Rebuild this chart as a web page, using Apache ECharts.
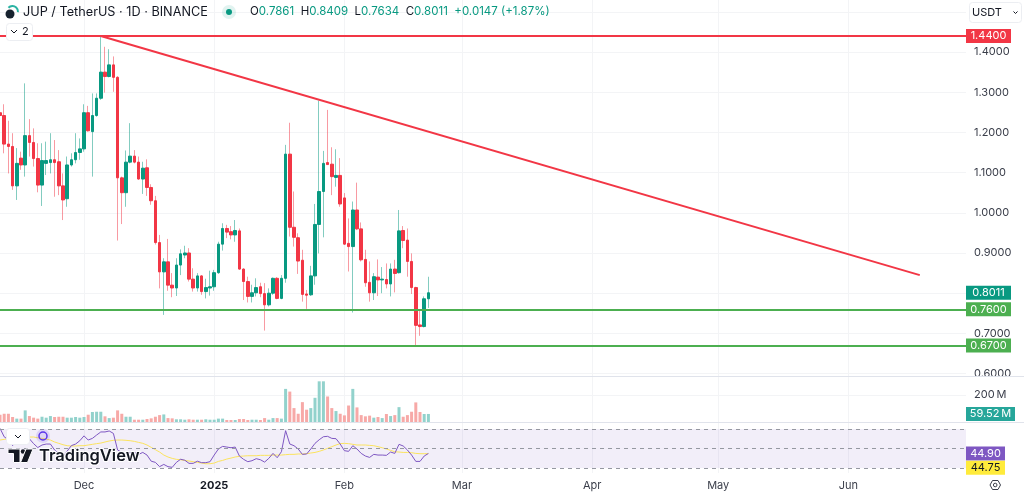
<!DOCTYPE html>
<html>
<head>
<meta charset="utf-8">
<title>JUP / TetherUS</title>
<script src="https://cdn.jsdelivr.net/npm/echarts@6/dist/echarts.min.js"></script>
<style>
  html, body { margin: 0; padding: 0; background: #fff; }
  #chart { width: 1024px; height: 493px; }
</style>
</head>
<body>
<div id="chart"></div>
<script>
var dates = [
  '2024-11-11','2024-11-12','2024-11-13','2024-11-14','2024-11-15','2024-11-16','2024-11-17','2024-11-18','2024-11-19','2024-11-20',
  '2024-11-21','2024-11-22','2024-11-23','2024-11-24','2024-11-25','2024-11-26','2024-11-27','2024-11-28','2024-11-29','2024-11-30',
  '2024-12-01','2024-12-02','2024-12-03','2024-12-04','2024-12-05','2024-12-06','2024-12-07','2024-12-08','2024-12-09','2024-12-10',
  '2024-12-11','2024-12-12','2024-12-13','2024-12-14','2024-12-15','2024-12-16','2024-12-17','2024-12-18','2024-12-19','2024-12-20',
  '2024-12-21','2024-12-22','2024-12-23','2024-12-24','2024-12-25','2024-12-26','2024-12-27','2024-12-28','2024-12-29','2024-12-30',
  '2024-12-31','2025-01-01','2025-01-02','2025-01-03','2025-01-04','2025-01-05','2025-01-06','2025-01-07','2025-01-08','2025-01-09',
  '2025-01-10','2025-01-11','2025-01-12','2025-01-13','2025-01-14','2025-01-15','2025-01-16','2025-01-17','2025-01-18','2025-01-19',
  '2025-01-20','2025-01-21','2025-01-22','2025-01-23','2025-01-24','2025-01-25','2025-01-26','2025-01-27','2025-01-28','2025-01-29',
  '2025-01-30','2025-01-31','2025-02-01','2025-02-02','2025-02-03','2025-02-04','2025-02-05','2025-02-06','2025-02-07','2025-02-08',
  '2025-02-09','2025-02-10','2025-02-11','2025-02-12','2025-02-13','2025-02-14','2025-02-15','2025-02-16','2025-02-17','2025-02-18',
  '2025-02-19','2025-02-20','2025-02-21'
];
var opens = [
  1.249,1.242,1.171,1.165,1.067,1.136,1.119,1.192,1.175,1.135,
  1.069,1.123,1.125,1.132,1.127,1.067,1.035,1.119,1.132,1.150,
  1.159,1.249,1.202,1.242,1.285,1.350,1.339,1.368,1.337,1.087,
  1.050,1.126,1.141,1.126,1.084,1.112,1.063,1.030,0.926,0.853,
  0.878,0.820,0.813,0.870,0.895,0.900,0.835,0.813,0.843,0.804,
  0.813,0.816,0.851,0.922,0.961,0.953,0.945,0.955,0.860,0.829,
  0.792,0.801,0.816,0.799,0.771,0.800,0.837,0.787,0.837,1.146,
  0.964,0.938,0.882,0.798,0.796,0.843,0.971,1.053,1.125,1.121,
  1.088,1.093,1.037,0.924,0.916,1.007,0.960,0.884,0.827,0.801,
  0.840,0.833,0.834,0.823,0.860,0.851,0.956,0.932,0.879,0.814,
  0.721,0.717,0.7861
];
var closes = [
  1.242,1.171,1.165,1.067,1.123,1.119,1.192,1.175,1.135,1.069,
  1.130,1.130,1.132,1.125,1.067,1.032,1.119,1.132,1.150,1.159,
  1.249,1.204,1.242,1.285,1.350,1.339,1.368,1.337,1.087,1.050,
  1.126,1.141,1.126,1.084,1.111,1.063,1.030,0.926,0.853,0.878,
  0.820,0.813,0.870,0.898,0.900,0.835,0.813,0.843,0.804,0.814,
  0.816,0.851,0.922,0.961,0.952,0.945,0.956,0.860,0.829,0.792,
  0.801,0.814,0.799,0.771,0.800,0.837,0.787,0.837,1.146,0.964,
  0.939,0.880,0.797,0.795,0.843,0.971,1.053,1.123,1.120,1.090,
  1.093,1.022,0.922,0.916,1.007,0.960,0.883,0.826,0.801,0.841,
  0.833,0.835,0.823,0.860,0.849,0.955,0.931,0.879,0.814,0.720,
  0.717,0.7861,0.8011
];
var lows = [
  1.231,1.148,1.098,1.057,1.032,1.107,1.090,1.140,1.115,1.051,
  1.017,1.094,1.098,1.040,1.044,0.982,1.015,1.115,1.123,1.132,
  1.152,1.202,1.090,1.239,1.281,1.299,1.337,1.301,0.931,0.972,
  1.015,1.123,1.123,1.082,1.047,1.042,1.020,0.921,0.812,0.746,
  0.806,0.790,0.793,0.845,0.887,0.829,0.804,0.804,0.796,0.787,
  0.794,0.806,0.848,0.906,0.937,0.934,0.928,0.858,0.783,0.777,
  0.777,0.792,0.790,0.707,0.767,0.796,0.785,0.785,0.826,0.941,
  0.916,0.848,0.779,0.761,0.793,0.821,0.899,0.939,1.119,1.044,
  1.065,1.015,0.920,0.854,0.752,0.957,0.879,0.816,0.779,0.783,
  0.793,0.800,0.812,0.792,0.802,0.849,0.912,0.841,0.798,0.670,
  0.694,0.715,0.7634
];
var highs = [
  1.260,1.270,1.229,1.198,1.161,1.152,1.322,1.233,1.210,1.173,
  1.173,1.177,1.198,1.181,1.156,1.098,1.140,1.148,1.198,1.185,
  1.270,1.266,1.297,1.297,1.440,1.413,1.407,1.389,1.340,1.090,
  1.155,1.223,1.156,1.140,1.127,1.133,1.071,1.042,0.945,0.887,
  0.935,0.850,0.887,0.909,0.918,0.912,0.862,0.850,0.845,0.836,
  0.856,0.858,0.928,0.974,0.970,0.967,0.982,0.961,0.862,0.841,
  0.821,0.837,0.826,0.825,0.812,0.839,0.840,0.845,1.169,1.224,
  1.053,0.949,0.908,0.808,0.868,1.022,1.279,1.154,1.256,1.163,
  1.158,1.136,1.049,0.986,1.028,1.075,0.976,0.908,0.879,0.850,
  0.884,0.865,0.874,0.874,0.883,1.007,0.967,0.961,0.899,0.816,
  0.758,0.792,0.8409
];
// volume in millions
var volumes = [
  54,61,61,37,25,25,86,44,32,25,
  39,32,44,37,39,39,32,32,37,32,
  37,54,74,76,76,42,29,32,86,61,
  39,39,17,17,17,22,27,39,51,56,
  29,27,20,20,17,20,17,17,17,20,
  17,17,25,25,15,15,15,22,22,15,
  17,17,15,29,17,29,29,25,245,225,
  103,61,147,91,103,179,301,301,189,103,
  81,61,49,122,245,108,51,42,47,32,
  37,29,59,44,51,110,39,51,76,145,
  74,59,59.52
];
var rsiValues = [
  70.7,62,59,53,58,57,64.5,60,55,51,
  53.6,54.6,54.6,48.5,45,41.6,47.4,53,54.6,58,
  63,58.7,60.4,63.8,67,67,68,65.5,48.5,46,
  45,45.7,46,44,46,43.3,37,35.8,31.4,33.7,
  31.4,30.7,35.8,39,38,34.8,34.8,37,35.5,35.5,
  36.5,43.3,49.5,52.2,51.5,50.8,51.5,42.3,38.9,36.5,
  37.5,39.6,38.5,36.1,39.9,45,40.6,46.7,68.3,54.6,
  52.9,49.5,44,44.4,49.5,55.3,59,62.1,62.5,60.4,
  60.1,54.6,47.8,47.1,52.9,49.5,45,42.3,40.9,44,
  43.3,43.3,43,46.4,45,54.3,52.6,48.5,43.3,36.8,
  36.8,42.3,44.90
];
var rsiMa = [
  58.7,59.4,60,60.8,61,61.5,61.8,61.8,61.8,61,
  60.4,59.7,58.7,56.7,55.3,53.9,52.9,52.6,52.6,52.9,
  52.9,53.6,54.3,55,55.6,56.7,57.7,58.4,58.7,58.7,
  58.4,58,57.3,56.3,55.3,53.6,51.2,48.8,46.4,43.3,
  41.3,39.9,38.9,38.5,37.8,37.2,36.5,35.8,35.1,34.4,
  34.4,35.1,36.8,37.8,39.2,40.2,41.3,42,42.3,42.6,
  42.6,42.6,43,43,43,43.3,43.3,43.3,43.7,44,
  44,44.4,44.4,44.7,45.4,46,47.1,48.5,50.2,51.9,
  53.6,55,55.3,55,54.3,53.6,53.6,53.6,53.2,52.9,
  51.9,50.8,49.5,48.1,46.7,46.4,46,46,45.7,45,
  44.7,44.7,44.75
];
var trendDates = ['2024-12-05', '2025-06-18'];
var trendValues = [1.44, 0.845];
var monthDates = ['2024-12-01','2025-01-01','2025-02-01','2025-03-01','2025-04-01','2025-05-01','2025-06-01'];
var monthLabels = ['Dec','2025','Feb','Mar','Apr','May','Jun'];
var priceTicks = [0.6,0.7,0.8,0.9,1.0,1.1,1.2,1.3,1.4];
var priceGrid = [0.6,0.7,0.8,0.9,1.0,1.1,1.2,1.3,1.4,1.5];

var startDate = '2024-11-11';
var endDate = '2025-06-29';
var font = 'Inter, "Noto Sans", sans-serif';
var red = '#f23645', green = '#089981';
var gridColor = '#f3f4f6';

// the time axis has no custom tick support in v6, so x is a value axis in ms
function ms(d) { return +new Date(d + 'T00:00:00'); }

var monthNames = {};
monthDates.forEach(function (d, i) { monthNames[ms(d)] = monthLabels[i]; });
var monthValues = monthDates.map(ms);

var isUp = function (i) { return closes[i] >= opens[i]; };

var wickData = dates.map(function (d, i) { return [ms(d), opens[i], closes[i], lows[i], highs[i]]; });
var bodyData = dates.map(function (d, i) {
  return [ms(d), opens[i], closes[i], Math.min(opens[i], closes[i]), Math.max(opens[i], closes[i])];
});
var volumeData = dates.map(function (d, i) {
  return { value: [ms(d), volumes[i]], itemStyle: { color: isUp(i) ? '#92d2cc' : '#f7a9a7' } };
});
var pairs = function (list) { return dates.map(function (d, i) { return [ms(d), list[i]]; }); };

// price tag on the right side of a pane
function tag(value, text, color, width, textColor, shift) {
  return {
    coord: [ms(endDate), value],
    symbol: 'rect',
    symbolSize: [width, 14],
    symbolOffset: [width / 2, shift || 0],
    itemStyle: { color: color },
    label: {
      show: true, position: 'inside', formatter: text,
      color: textColor || '#fff', fontFamily: font, fontSize: 11
    }
  };
}
function hLine(value, color) {
  return { yAxis: value, lineStyle: { color: color, width: 2, type: 'solid' } };
}
function xAxisFor(gridIndex, showLabel) {
  return {
    type: 'value', gridIndex: gridIndex, min: ms(startDate), max: ms(endDate),
    axisLine: { show: false },
    axisTick: { show: false, customValues: monthValues },
    splitLine: { show: true, lineStyle: { color: gridColor, width: 1 } },
    axisLabel: {
      show: showLabel, customValues: monthValues, margin: 7, hideOverlap: false,
      color: '#3a3e4a', fontFamily: font, fontSize: 11,
      formatter: function (v) {
        var name = monthNames[v];
        return name === '2025' ? '{b|2025}' : name;
      },
      rich: { b: { fontWeight: 'bold', color: '#131722', fontFamily: font, fontSize: 11 } }
    }
  };
}

var option = {
  animation: false,
  backgroundColor: '#fff',
  grid: [
    { left: 0, right: 58, top: 0, height: 376 },
    { left: 0, right: 58, top: 377, height: 45 },
    { left: 0, right: 58, top: 422, height: 51 }
  ],
  xAxis: [xAxisFor(0, false), xAxisFor(1, false), xAxisFor(2, true)],
  yAxis: [
    {
      type: 'value', gridIndex: 0, position: 'right', min: 0.594, max: 1.5294, scale: true,
      axisLine: { show: false },
      axisTick: { show: false, customValues: priceGrid },
      splitLine: { show: true, lineStyle: { color: gridColor } },
      axisLabel: {
        customValues: priceTicks, margin: 8, color: '#3a3e4a', fontFamily: font, fontSize: 11,
        formatter: function (v) { return v.toFixed(4); }
      }
    },
    {
      type: 'value', gridIndex: 1, position: 'right', min: 0, max: 333,
      axisLine: { show: false },
      axisTick: { show: false, customValues: [200] },
      splitLine: { show: true, lineStyle: { color: gridColor } },
      axisLabel: {
        customValues: [200], margin: 8, color: '#3a3e4a', fontFamily: font, fontSize: 11,
        formatter: function (v) { return v + '\u202fM'; }
      }
    },
    {
      type: 'value', gridIndex: 2, position: 'right', min: 24.9, max: 77.2,
      axisLine: { show: false },
      axisTick: { show: false, customValues: [] },
      splitLine: { show: false },
      axisLabel: { show: false }
    }
  ],
  series: [
    {
      // wicks are lighter than the bodies, so they get their own series
      name: 'wicks', type: 'candlestick', xAxisIndex: 0, yAxisIndex: 0,
      data: wickData, barWidth: 1,
      itemStyle: {
        color: 'rgba(8,153,129,0.5)', color0: 'rgba(242,54,69,0.5)',
        borderColor: 'rgba(8,153,129,0.5)', borderColor0: 'rgba(242,54,69,0.5)', borderWidth: 1
      },
      z: 2
    },
    {
      name: 'bodies', type: 'candlestick', xAxisIndex: 0, yAxisIndex: 0,
      data: bodyData, barWidth: 3,
      itemStyle: { color: green, color0: red, borderColor: green, borderColor0: red, borderWidth: 1 },
      markPoint: { silent: true, data: [tag(0.8011, '0.8011', green, 45)] },
      z: 3
    },
    {
      name: 'trend', type: 'line', xAxisIndex: 0, yAxisIndex: 0,
      data: trendDates.map(function (d, i) { return [ms(d), trendValues[i]]; }),
      showSymbol: false, symbol: 'none', lineStyle: { color: red, width: 2 },
      markLine: {
        silent: true, symbol: 'none', label: { show: false },
        data: [hLine(1.44, red), hLine(0.76, '#4caf50'), hLine(0.67, '#4caf50')]
      },
      markPoint: {
        silent: true,
        data: [tag(1.44, '1.4400', red, 45), tag(0.76, '0.7600', '#4caf50', 45), tag(0.67, '0.6700', '#4caf50', 45)]
      },
      z: 4
    },
    {
      name: 'volume', type: 'bar', xAxisIndex: 1, yAxisIndex: 1,
      data: volumeData, barWidth: 3,
      markPoint: { silent: true, data: [tag(59.52, '59.52\u202fM', '#26a69a', 49)] }
    },
    {
      name: 'rsi', type: 'line', xAxisIndex: 2, yAxisIndex: 2,
      data: pairs(rsiValues), showSymbol: false, symbol: 'none',
      lineStyle: { color: '#7e57c2', width: 1 },
      markArea: {
        silent: true, itemStyle: { color: 'rgba(126,87,194,0.1)' },
        data: [[{ yAxis: 70 }, { yAxis: 30 }]]
      },
      markLine: {
        silent: true, symbol: 'none', label: { show: false },
        lineStyle: { color: '#9598a1', width: 1, type: [4, 4] },
        data: [{ yAxis: 70 }, { yAxis: 50 }, { yAxis: 30 }]
      },
      markPoint: { silent: true, data: [tag(44.90, '44.90', '#7e57c2', 39), tag(44.75, '44.75', '#ffeb3b', 39, '#131722', 14)] },
      z: 3
    },
    {
      name: 'rsi ma', type: 'line', xAxisIndex: 2, yAxisIndex: 2,
      data: pairs(rsiMa), showSymbol: false, symbol: 'none',
      lineStyle: { color: '#fbe35e', width: 1 }, z: 2
    }
  ],
  graphic: [
    // the pane below cuts the lowest price label
    { type: 'rect', z: 45, shape: { x: 967, y: 377, width: 57, height: 8 }, style: { fill: '#fff' } },
    // pane dividers
    { type: 'line', z: 50, shape: { x1: 0, y1: 376.5, x2: 1024, y2: 376.5 }, style: { stroke: '#e0e3eb', lineWidth: 1 } },
    { type: 'line', z: 50, shape: { x1: 0, y1: 422.5, x2: 1024, y2: 422.5 }, style: { stroke: '#e0e3eb', lineWidth: 1 } },
    // header
    { type: 'circle', z: 60, shape: { cx: 10, cy: 14, r: 4.5 }, style: { fill: '#17222e' } },
    { type: 'arc', z: 60, shape: { cx: 12.5, cy: 11.5, r: 5.5, startAngle: -2.4, endAngle: 0.1 }, style: { stroke: '#2bb3a3', lineWidth: 2, fill: null } },
    { type: 'text', z: 60, style: { x: 23, y: 12, text: 'JUP / TetherUS · 1D · BINANCE', fill: '#131722', font: '12.7px ' + font, verticalAlign: 'middle' } },
    { type: 'circle', z: 60, shape: { cx: 229, cy: 12, r: 7 }, style: { fill: 'rgba(8,153,129,0.12)' } },
    { type: 'circle', z: 60, shape: { cx: 229, cy: 12, r: 3 }, style: { fill: green } },
    {
      type: 'text', z: 60,
      style: {
        x: 250, y: 12, verticalAlign: 'middle',
        text: '{k|O}{v|0.7861}  {k|H}{v|0.8409}  {k|L}{v|0.7634}  {k|C}{v|0.8011}  {v|+0.0147 (+1.87%)}',
        font: '11.5px ' + font,
        rich: {
          k: { fill: '#131722', font: '11.5px ' + font },
          v: { fill: green, font: '11.5px ' + font }
        }
      }
    },
    // collapsed indicators button
    { type: 'rect', z: 60, shape: { x: 6.5, y: 23.5, width: 26, height: 17, r: 3 }, style: { fill: '#fff', stroke: '#eceef2' } },
    { type: 'polyline', z: 61, shape: { points: [[11, 30], [14, 33], [17, 30]] }, style: { stroke: '#131722', lineWidth: 1, fill: null } },
    { type: 'text', z: 61, style: { x: 22, y: 32, text: '2', fill: '#131722', font: '11px ' + font, verticalAlign: 'middle' } },
    // currency selector
    { type: 'rect', z: 60, shape: { x: 969.5, y: 2.5, width: 52, height: 20, r: 3 }, style: { fill: '#fff', stroke: '#eceef2' } },
    { type: 'text', z: 61, style: { x: 972, y: 13, text: 'USDT', fill: '#131722', font: '11px ' + font, verticalAlign: 'middle' } },
    { type: 'polyline', z: 61, shape: { points: [[1013.5, 11.5], [1015.5, 13.5], [1017.5, 11.5]] }, style: { stroke: '#131722', lineWidth: 1, fill: null } },
    // rsi pane controls and logo
    { type: 'rect', z: 60, shape: { x: 6.5, y: 428.5, width: 23, height: 16, r: 3 }, style: { fill: '#fff', stroke: '#eceef2' } },
    { type: 'polyline', z: 61, shape: { points: [[15, 435], [18, 438], [21, 435]] }, style: { stroke: '#131722', lineWidth: 1, fill: null } },
    { type: 'circle', z: 60, shape: { cx: 43, cy: 436, r: 7 }, style: { fill: 'rgba(98,60,234,0.15)' } },
    { type: 'circle', z: 61, shape: { cx: 43, cy: 436, r: 4 }, style: { fill: null, stroke: '#5b34e8', lineWidth: 1.5 } },
    {
      type: 'polygon', z: 62,
      shape: { points: [[8, 449], [20, 449], [20, 462.5], [13.5, 462.5], [13.5, 453.5], [8, 453.5]] },
      style: { fill: '#131722', stroke: '#fff', lineWidth: 1 }
    },
    { type: 'circle', z: 62, shape: { cx: 23, cy: 451.5, r: 2.2 }, style: { fill: '#131722' } },
    {
      type: 'polygon', z: 62,
      shape: { points: [[26, 449], [33, 449], [27.5, 462.5], [20.5, 462.5]] },
      style: { fill: '#131722', stroke: '#fff', lineWidth: 1 }
    },
    {
      type: 'text', z: 62,
      style: {
        x: 39, y: 456, text: 'TradingView', fill: '#131722', verticalAlign: 'middle',
        font: '600 16.5px ' + font, stroke: '#fff', lineWidth: 2
      }
    },
    // settings icon
    {
      type: 'polygon', z: 60,
      shape: { points: [[990, 485], [992.5, 480.5], [998, 480.5], [1000.5, 485], [998, 489.5], [992.5, 489.5]] },
      style: { fill: null, stroke: '#3a3e4a', lineWidth: 1 }
    },
    { type: 'circle', z: 60, shape: { cx: 995.2, cy: 485, r: 1.8 }, style: { fill: null, stroke: '#3a3e4a', lineWidth: 1 } }
  ]
};

var chart = echarts.init(document.getElementById('chart'), null, { renderer: 'canvas' });
chart.setOption(option);
</script>
</body>
</html>
